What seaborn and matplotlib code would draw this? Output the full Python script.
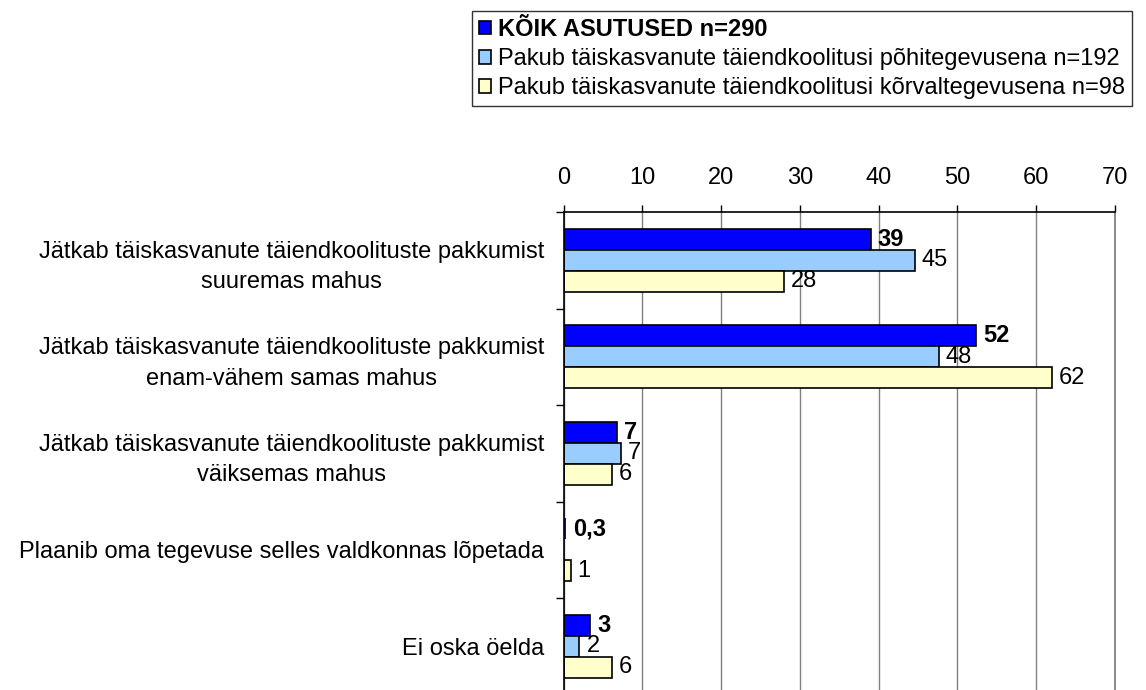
import pandas as pd
import numpy as np
import matplotlib.pyplot as plt
import seaborn as sns

# Andmed (loetud jooniselt)
categories = [
    "Jätkab täiskasvanute täiendkoolituste pakkumist\nsuuremas mahus",
    "Jätkab täiskasvanute täiendkoolituste pakkumist\nenam-vähem samas mahus",
    "Jätkab täiskasvanute täiendkoolituste pakkumist\nväiksemas mahus",
    "Plaanib oma tegevuse selles valdkonnas lõpetada",
    "Ei oska öelda",
]
series_names = [
    "KÕIK ASUTUSED n=290",
    "Pakub täiskasvanute täiendkoolitusi põhitegevusena n=192",
    "Pakub täiskasvanute täiendkoolitusi kõrvaltegevusena n=98",
]
koik = [39.0, 52.4, 6.8, 0.3, 3.4]
pohi = [44.6, 47.6, 7.3, 0.0, 2.0]
korval = [28.0, 62.0, 6.1, 0.9, 6.1]
koik_labels = ["39", "52", "7", "0,3", "3"]
pohi_labels = ["45", "48", "7", "", "2"]
korval_labels = ["28", "62", "6", "1", "6"]
x_ticks = [0, 10, 20, 30, 40, 50, 60, 70]

colors = ["#0000FF", "#99CCFF", "#FFFFCC"]

df = pd.DataFrame({
    "kategooria": categories * 3,
    "grupp": [series_names[0]] * 5 + [series_names[1]] * 5 + [series_names[2]] * 5,
    "vaartus": koik + pohi + korval,
})
all_labels = [koik_labels, pohi_labels, korval_labels]

sns.set_style("white")
plt.rcParams["font.family"] = ["Liberation Sans", "DejaVu Sans"]
plt.rcParams["text.color"] = "black"
plt.rcParams["xtick.labelcolor"] = "black"
plt.rcParams["ytick.labelcolor"] = "black"
fs = 17

W, H = 1146, 690
fig = plt.figure(figsize=(W / 100, H / 100), dpi=100)
ax = fig.add_axes([563.7 / W, -4.5 / H, (1115 - 563.7) / W, (694.5 - 212) / H])

sns.barplot(data=df, x="vaartus", y="kategooria", hue="grupp", orient="h",
            palette=colors, saturation=1, width=0.65, edgecolor="black", linewidth=1.2,
            errorbar=None, ax=ax)

# väärtused tulpade otsa
for i, cont in enumerate(ax.containers):
    for bar, txt in zip(cont, all_labels[i]):
        if bar.get_width() < 0.5:
            bar.set_linewidth(0)
        if txt == "":
            continue
        ax.annotate(txt, (bar.get_width(), bar.get_y() + bar.get_height() / 2),
                    xytext=(5, 0), textcoords="offset points", va="center", ha="left",
                    fontsize=fs, color="black",
                    fontweight="bold" if i == 0 else "normal")

# teljed
ax.set_xlim(0, 70)
ax.set_ylim(4.5, -0.5)
ax.set_xticks(x_ticks)
ax.xaxis.tick_top()
ax.tick_params(axis="x", which="major", top=True, bottom=False, length=5, width=1,
               direction="out", pad=11.5, labelsize=fs, color="black")
ax.set_yticks(np.arange(-0.5, 5, 1), minor=True)
ax.tick_params(axis="y", which="major", length=0, pad=14, labelsize=fs)
ax.tick_params(axis="y", which="minor", left=True, length=5.5, width=1, direction="out", color="black")
for lab in ax.get_yticklabels():
    lab.set_multialignment("center")
    lab.set_linespacing(1.5)
ax.set_xlabel("")
ax.set_ylabel("")
ax.grid(axis="x", color="#808080", lw=1)
ax.set_axisbelow(True)
ax.spines["bottom"].set_visible(False)
ax.spines["right"].set_color("#808080")
ax.spines["right"].set_linewidth(1.3)
ax.spines["top"].set_color("black")
ax.spines["top"].set_linewidth(1.2)
ax.spines["left"].set_color("black")
ax.spines["left"].set_linewidth(1.2)

# legend
handles, labels = ax.get_legend_handles_labels()
ax.get_legend().remove()
leg = fig.legend(handles, labels, loc="upper left", bbox_to_anchor=(472 / W, 1 - 11 / H),
                 fontsize=fs, frameon=True, fancybox=False, edgecolor="black",
                 handlelength=0.5, handleheight=0.5, handletextpad=0.3,
                 labelspacing=0.3, borderpad=0.3, borderaxespad=0)
leg.get_frame().set_linewidth(1)
leg.get_texts()[0].set_fontweight("bold")

fig.savefig("out.png", dpi=100)
